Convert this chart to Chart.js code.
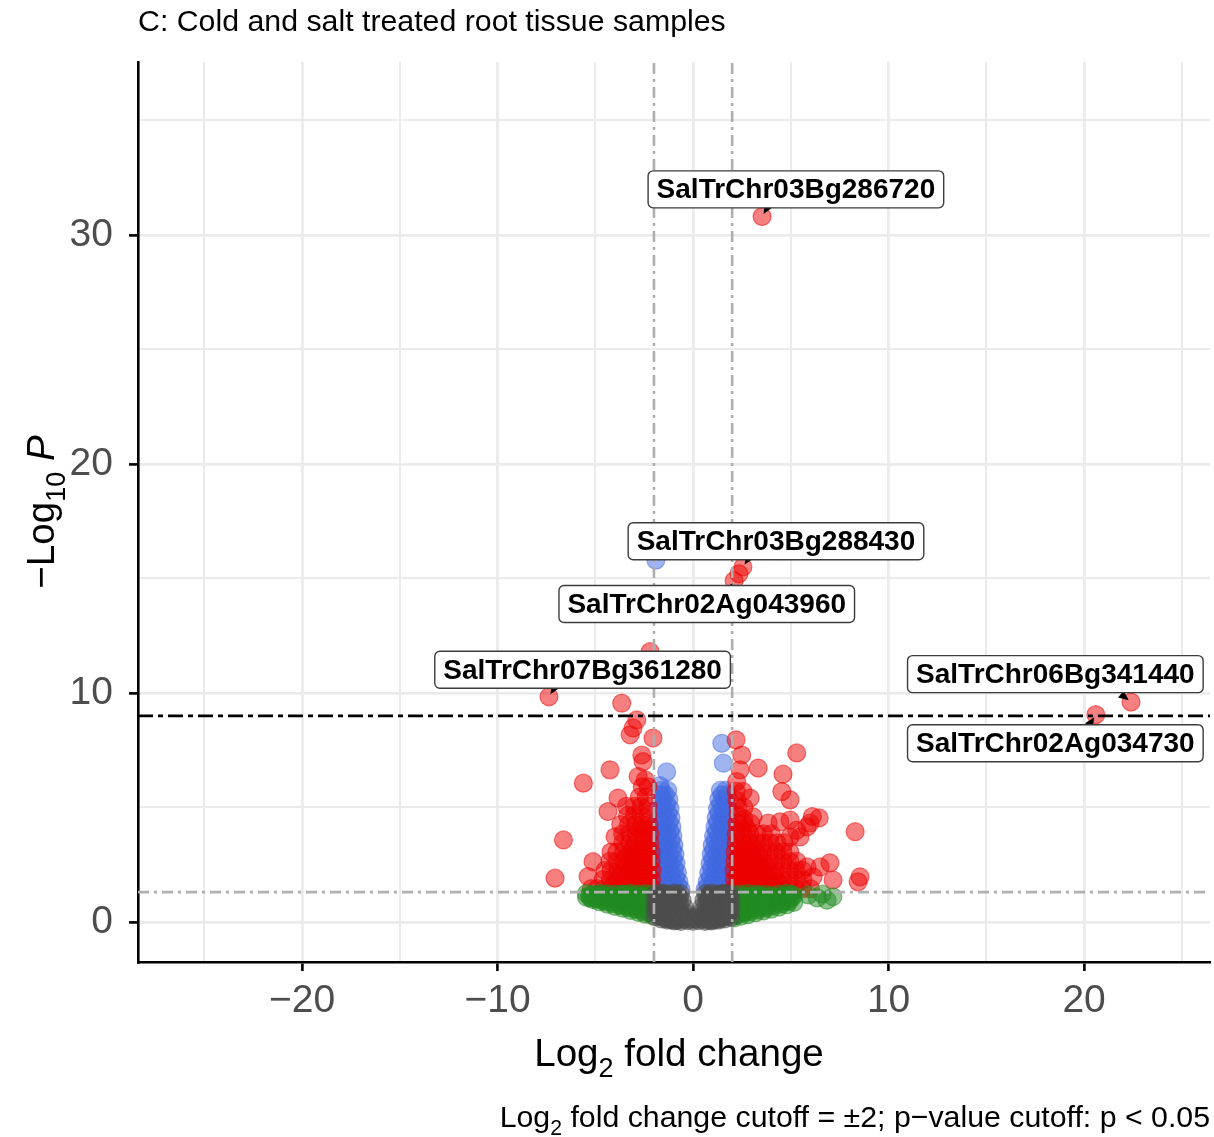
<!DOCTYPE html>
<html>
<head>
<meta charset="utf-8">
<script src="https://cdn.jsdelivr.net/npm/chart.js@4.4.1/dist/chart.umd.min.js"></script>
<style>
  html, body { margin: 0; padding: 0; background: #fff; }
  canvas { display: block; }
</style>
</head>
<body>
<canvas id="chart" width="1214" height="1137"></canvas>
<script>
// log2 fold change / -log10 p, one list per significance class
const nsGenes = [
  [-1.93, 0.22], [-1.93, 0.55], [-1.93, 0.9], [-1.92, 1.22],
  [-1.86, 0.4], [-1.86, 0.75], [-1.86, 1.1],
  [-1.78, 0.35], [-1.78, 0.7], [-1.78, 1.05],
  [-1.7, 0.25], [-1.7, 0.6], [-1.7, 0.95], [-1.7, 1.25],
  [-1.62, 0.13], [-1.62, 0.48], [-1.6, 0.85], [-1.62, 1.2],
  [-1.54, 0.2], [-1.54, 0.55], [-1.54, 0.9], [-1.54, 1.18],
  [-1.46, 0.28], [-1.46, 0.62], [-1.46, 0.98], [-1.46, 1.25],
  [-1.38, 0.15], [-1.38, 0.5], [-1.38, 0.85], [-1.38, 1.2],
  [-1.3, 0.08], [-1.3, 0.42], [-1.28, 0.78], [-1.3, 1.15],
  [-1.2, 0.12], [-1.2, 0.45], [-1.2, 0.8], [-1.2, 1.1],
  [-1.12, 0.22], [-1.12, 0.56], [-1.12, 0.9], [-1.12, 1.2],
  [-1.04, 0.1], [-1.04, 0.45], [-1.04, 0.8], [-1.04, 1.15],
  [-0.95, 0.04], [-0.95, 0.38], [-0.95, 0.72], [-0.93, 1.05], [-0.95, 1.26],
  [-0.88, 0.08], [-0.88, 0.42], [-0.88, 0.75], [-0.88, 1.08],
  [-0.8, 0.18], [-0.8, 0.52], [-0.8, 0.85], [-0.78, 1.15],
  [-0.7, 0.1], [-0.7, 0.42], [-0.68, 0.75], [-0.7, 1.05],
  [-0.62, 0.02], [-0.62, 0.3], [-0.64, 1.24], [-0.56, 0.95], [-0.46, 0.65], [-0.33, 0.36],
  [-0.48, 0.12], [-0.4, 0.22], [-0.28, 0.06], [-0.2, 0.22], [-0.12, 0.12],
  [0, 0.03],
  [0.12, 0.12], [0.2, 0.22], [0.28, 0.06], [0.4, 0.22], [0.48, 0.12],
  [0.33, 0.36], [0.46, 0.65], [0.56, 0.95], [0.64, 1.24], [0.62, 0.3], [0.62, 0.02],
  [0.7, 0.1], [0.7, 0.42], [0.68, 0.75], [0.7, 1.05],
  [0.8, 0.18], [0.8, 0.52], [0.8, 0.85], [0.78, 1.15],
  [0.88, 0.08], [0.88, 0.42], [0.88, 0.75], [0.88, 1.08],
  [0.95, 0.04], [0.95, 0.38], [0.95, 0.72], [0.93, 1.05], [0.95, 1.26],
  [1.04, 0.1], [1.04, 0.45], [1.04, 0.8], [1.04, 1.15],
  [1.12, 0.22], [1.12, 0.56], [1.12, 0.9], [1.12, 1.2],
  [1.2, 0.12], [1.2, 0.45], [1.2, 0.8], [1.2, 1.1],
  [1.3, 0.08], [1.3, 0.42], [1.28, 0.78], [1.3, 1.15],
  [1.38, 0.15], [1.38, 0.5], [1.38, 0.85], [1.38, 1.2],
  [1.46, 0.28], [1.46, 0.62], [1.46, 0.98], [1.46, 1.25],
  [1.54, 0.2], [1.54, 0.55], [1.54, 0.9], [1.54, 1.18],
  [1.62, 0.13], [1.62, 0.48], [1.6, 0.85], [1.62, 1.2],
  [1.7, 0.25], [1.7, 0.6], [1.7, 0.95], [1.7, 1.25],
  [1.78, 0.35], [1.78, 0.7], [1.78, 1.05],
  [1.86, 0.4], [1.86, 0.75], [1.86, 1.1],
  [1.93, 0.2], [1.93, 0.55], [1.93, 0.9], [1.92, 1.22],
];

const fcGenes = [
  [-2.1, 0.28], [-2.1, 0.6], [-2.1, 0.95], [-2.1, 1.22],
  [-2.2, 0.4], [-2.2, 0.75], [-2.2, 1.05],
  [-2.28, 0.45], [-2.28, 0.8], [-2.28, 1.1],
  [-2.45, 0.34], [-2.45, 0.65], [-2.45, 0.98], [-2.45, 1.24],
  [-2.55, 0.45], [-2.55, 0.75], [-2.55, 1.05],
  [-2.62, 0.55], [-2.62, 0.85], [-2.62, 1.12],
  [-2.8, 0.42], [-2.8, 0.72], [-2.8, 1.0], [-2.8, 1.22],
  [-2.9, 0.55], [-2.9, 0.85], [-2.9, 1.1],
  [-3.0, 0.6], [-3.0, 0.9], [-3.0, 1.15],
  [-3.2, 0.5], [-3.2, 0.8], [-3.2, 1.05], [-3.2, 1.25],
  [-3.3, 0.62], [-3.3, 0.92], [-3.3, 1.15],
  [-3.4, 0.7], [-3.4, 1.0], [-3.4, 1.2],
  [-3.6, 0.6], [-3.6, 0.9], [-3.6, 1.2],
  [-3.7, 0.72], [-3.7, 1.0], [-3.7, 1.22],
  [-3.8, 0.8], [-3.8, 1.08],
  [-4.0, 0.68], [-4.0, 0.95], [-4.0, 1.22],
  [-4.1, 0.8], [-4.1, 1.05],
  [-4.2, 0.88], [-4.2, 1.12],
  [-4.4, 0.78], [-4.4, 1.02], [-4.4, 1.24],
  [-4.5, 0.88], [-4.5, 1.12],
  [-4.6, 0.95], [-4.6, 1.18],
  [-4.8, 0.88], [-4.8, 1.1], [-4.8, 1.25],
  [-4.9, 0.98], [-4.9, 1.18],
  [-5.0, 1.05], [-5.15, 0.98], [-5.15, 1.2], [-5.25, 1.05], [-5.3, 1.15], [-5.45, 1.08], [-5.45, 1.24],
  [2.1, 0.18], [2.1, 0.5], [2.1, 0.85], [2.1, 1.2],
  [2.2, 0.3], [2.2, 0.65], [2.2, 1.0],
  [2.28, 0.35], [2.28, 0.7], [2.28, 1.05],
  [2.45, 0.25], [2.45, 0.55], [2.45, 0.9], [2.45, 1.22],
  [2.55, 0.38], [2.55, 0.7], [2.55, 1.02],
  [2.62, 0.45], [2.62, 0.78], [2.62, 1.1],
  [2.8, 0.32], [2.8, 0.62], [2.8, 0.95], [2.8, 1.24],
  [2.9, 0.45], [2.9, 0.78], [2.9, 1.08],
  [3.0, 0.55], [3.0, 0.85], [3.0, 1.12],
  [3.2, 0.4], [3.2, 0.7], [3.2, 1.0], [3.2, 1.22],
  [3.3, 0.52], [3.3, 0.82], [3.3, 1.12],
  [3.4, 0.62], [3.4, 0.92], [3.4, 1.18],
  [3.6, 0.48], [3.6, 0.8], [3.6, 1.1],
  [3.7, 0.6], [3.7, 0.92], [3.7, 1.2],
  [3.8, 0.7], [3.8, 1.0],
  [4.0, 0.56], [4.0, 0.85], [4.0, 1.15],
  [4.1, 0.7], [4.1, 1.0],
  [4.2, 0.8], [4.2, 1.08],
  [4.4, 0.65], [4.4, 0.95], [4.4, 1.22],
  [4.5, 0.78], [4.5, 1.08],
  [4.6, 0.88], [4.6, 1.15],
  [4.8, 0.75], [4.8, 1.05], [4.8, 1.25],
  [4.9, 0.9], [4.9, 1.15],
  [5.0, 1.0], [5.05, 1.2], [5.15, 0.85], [5.15, 1.15],
  [5.9, 1.18], [6.35, 1.05], [6.6, 1.22], [6.85, 0.95], [7.15, 1.1],
];

const pGenes = [
  [-0.62, 1.42], [-0.92, 1.42], [-1.25, 1.42], [-1.6, 1.42], [-1.9, 1.42],
  [-0.78, 1.6], [-1.1, 1.6], [-1.45, 1.6], [-1.8, 1.6],
  [-0.72, 1.75], [-1.02, 1.75], [-1.35, 1.75], [-1.68, 1.75], [-1.95, 1.75],
  [-0.88, 1.95], [-1.2, 1.95], [-1.52, 1.95], [-1.85, 1.95],
  [-0.8, 2.15], [-1.1, 2.15], [-1.42, 2.15], [-1.75, 2.15],
  [-0.95, 2.35], [-1.28, 2.35], [-1.6, 2.35], [-1.9, 2.35],
  [-0.87, 2.55], [-1.17, 2.55], [-1.48, 2.55], [-1.8, 2.55],
  [-1.0, 2.75], [-1.33, 2.75], [-1.65, 2.75],
  [-0.93, 2.95], [-1.22, 2.95], [-1.53, 2.95], [-1.85, 2.95],
  [-1.05, 3.15], [-1.38, 3.15], [-1.7, 3.15],
  [-0.98, 3.35], [-1.27, 3.35], [-1.58, 3.35], [-1.88, 3.35],
  [-1.12, 3.55], [-1.43, 3.55], [-1.75, 3.55],
  [-1.03, 3.75], [-1.32, 3.75], [-1.62, 3.75], [-1.92, 3.75],
  [-1.17, 3.95], [-1.5, 3.95], [-1.8, 3.95],
  [-1.08, 4.15], [-1.37, 4.15], [-1.67, 4.15],
  [-1.22, 4.35], [-1.55, 4.35], [-1.85, 4.35],
  [-1.13, 4.55], [-1.42, 4.55], [-1.72, 4.55],
  [-1.28, 4.75], [-1.6, 4.75],
  [-1.18, 4.95], [-1.47, 4.95], [-1.78, 4.95],
  [-1.35, 5.15], [-1.65, 5.15],
  [-1.24, 5.35], [-1.55, 5.35], [-1.42, 5.55], [-1.7, 5.55],
  [-1.3, 5.75], [-1.62, 5.75],
  [-1.69, 5.95], [-1.35, 6.55], [-1.9, 15.8],
  [0.62, 1.42], [0.92, 1.42], [1.25, 1.42], [1.6, 1.42], [1.9, 1.42],
  [0.78, 1.6], [1.1, 1.6], [1.45, 1.6], [1.8, 1.6],
  [0.72, 1.75], [1.02, 1.75], [1.35, 1.75], [1.68, 1.75], [1.95, 1.75],
  [0.88, 1.95], [1.2, 1.95], [1.52, 1.95], [1.85, 1.95],
  [0.8, 2.15], [1.1, 2.15], [1.42, 2.15], [1.75, 2.15],
  [0.95, 2.35], [1.28, 2.35], [1.6, 2.35], [1.9, 2.35],
  [0.87, 2.55], [1.17, 2.55], [1.48, 2.55], [1.8, 2.55],
  [1.0, 2.75], [1.33, 2.75], [1.65, 2.75],
  [0.93, 2.95], [1.22, 2.95], [1.53, 2.95], [1.85, 2.95],
  [1.05, 3.15], [1.38, 3.15], [1.7, 3.15],
  [0.98, 3.35], [1.27, 3.35], [1.58, 3.35], [1.88, 3.35],
  [1.12, 3.55], [1.43, 3.55], [1.75, 3.55],
  [1.05, 3.75], [1.34, 3.75], [1.64, 3.75], [1.92, 3.75],
  [1.2, 3.95], [1.5, 3.95], [1.8, 3.95],
  [1.12, 4.15], [1.4, 4.15], [1.7, 4.15],
  [1.25, 4.35], [1.55, 4.35], [1.85, 4.35],
  [1.18, 4.55], [1.46, 4.55], [1.75, 4.55],
  [1.32, 4.75], [1.62, 4.75],
  [1.25, 4.95], [1.52, 4.95], [1.8, 4.95],
  [1.4, 5.15], [1.7, 5.15],
  [1.32, 5.35], [1.6, 5.35], [1.48, 5.55], [1.75, 5.55],
  [1.4, 5.75], [1.68, 5.75],
  [1.55, 6.93], [1.47, 7.8],
];

const fcPGenes = [
  [-2.1, 1.45], [-2.45, 1.45], [-2.8, 1.45], [-3.15, 1.45], [-3.5, 1.45], [-3.85, 1.45], [-4.2, 1.45], [-4.55, 1.45], [-4.9, 1.45], [-5.2, 1.45],
  [-2.28, 1.65], [-2.63, 1.65], [-2.98, 1.65], [-3.33, 1.65], [-3.68, 1.65], [-4.05, 1.65],
  [-2.12, 1.85], [-2.47, 1.85], [-2.82, 1.85], [-3.17, 1.85], [-3.52, 1.85], [-3.87, 1.85], [-4.22, 1.85], [-4.6, 1.85], [-5.37, 1.98],
  [-2.28, 2.05], [-2.63, 2.05], [-2.98, 2.05], [-3.33, 2.05], [-3.68, 2.05],
  [-2.1, 2.25], [-2.45, 2.25], [-2.8, 2.25], [-3.15, 2.25], [-3.5, 2.25], [-3.85, 2.25], [-4.2, 2.25], [-4.5, 2.25],
  [-2.3, 2.45], [-2.65, 2.45], [-3.0, 2.45], [-3.35, 2.45],
  [-2.15, 2.65], [-2.5, 2.65], [-2.85, 2.65], [-3.2, 2.65], [-3.55, 2.65], [-3.9, 2.65], [-4.25, 2.65], [-5.12, 2.63],
  [-2.32, 2.85], [-2.67, 2.85], [-3.02, 2.85], [-3.37, 2.85],
  [-2.15, 3.05], [-2.5, 3.05], [-2.85, 3.05], [-3.2, 3.05], [-3.55, 3.05], [-3.9, 3.05], [-4.2, 3.05],
  [-2.35, 3.25], [-2.7, 3.25], [-3.05, 3.25],
  [-2.2, 3.45], [-2.55, 3.45], [-2.9, 3.45], [-3.25, 3.45], [-3.6, 3.45], [-3.99, 3.72],
  [-2.2, 3.85], [-2.55, 3.85], [-2.9, 3.85], [-3.25, 3.85], [-3.6, 3.85],
  [-2.4, 4.05], [-2.75, 4.05],
  [-2.25, 4.25], [-2.6, 4.25], [-2.95, 4.25], [-3.3, 4.25], [-3.7, 4.25],
  [-2.3, 4.65], [-2.65, 4.65], [-3.0, 4.65], [-3.35, 4.65], [-4.35, 4.82],
  [-2.3, 5.05], [-2.65, 5.05], [-3.0, 5.05], [-3.4, 5.05],
  [-2.4, 5.45], [-2.75, 5.45], [-3.84, 5.41],
  [-2.3, 5.9], [-2.6, 5.9], [-2.45, 6.2],
  [-7.06, 1.91], [-6.63, 3.58], [-5.61, 6.06], [-4.25, 6.64], [-2.81, 6.35], [-2.56, 7.0],
  [-2.62, 7.29], [-2.05, 8.03], [-3.22, 8.17], [-3.07, 8.47], [-2.88, 8.82], [-3.65, 9.55], [-2.2, 11.8],
  [2.1, 1.45], [2.45, 1.45], [2.8, 1.45], [3.15, 1.45], [3.5, 1.45], [3.85, 1.45], [4.2, 1.45], [4.55, 1.45], [4.9, 1.45], [5.25, 1.45], [5.6, 1.45], [6.0, 1.45],
  [2.28, 1.65], [2.63, 1.65], [2.98, 1.65], [3.33, 1.65], [3.68, 1.65], [4.05, 1.65], [4.4, 1.65],
  [2.12, 1.85], [2.47, 1.85], [2.82, 1.85], [3.17, 1.85], [3.52, 1.85], [3.87, 1.85], [4.22, 1.85], [4.57, 1.85], [4.92, 1.85], [5.27, 1.85], [5.62, 1.85], [6.14, 1.97],
  [2.28, 2.05], [2.63, 2.05], [2.98, 2.05], [3.33, 2.05], [3.68, 2.05], [4.05, 2.05],
  [2.1, 2.25], [2.45, 2.25], [2.8, 2.25], [3.15, 2.25], [3.5, 2.25], [3.85, 2.25], [4.2, 2.25], [4.55, 2.25], [4.9, 2.25], [5.25, 2.25], [5.6, 2.25],
  [2.3, 2.45], [2.65, 2.45], [3.0, 2.45], [3.35, 2.45], [3.7, 2.45],
  [2.15, 2.65], [2.5, 2.65], [2.85, 2.65], [3.2, 2.65], [3.55, 2.65], [3.9, 2.65], [4.25, 2.65], [4.6, 2.65], [4.95, 2.65], [5.3, 2.65], [5.83, 2.4], [6.5, 2.4],
  [2.32, 2.85], [2.67, 2.85], [3.02, 2.85], [3.37, 2.85],
  [2.15, 3.05], [2.5, 3.05], [2.85, 3.05], [3.2, 3.05], [3.55, 3.05], [3.9, 3.05], [4.25, 3.05], [4.6, 3.05], [4.95, 3.05],
  [2.35, 3.25], [2.7, 3.25], [3.05, 3.25],
  [2.2, 3.45], [2.55, 3.45], [2.9, 3.45], [3.25, 3.45], [3.6, 3.45], [3.95, 3.45], [4.3, 3.45], [4.65, 3.45], [5.47, 3.71],
  [2.2, 3.85], [2.55, 3.85], [2.9, 3.85], [3.27, 3.85], [3.6, 3.85], [4.0, 3.85], [4.96, 3.71], [5.3, 4.0], [5.83, 4.15],
  [2.4, 4.05], [2.75, 4.05],
  [2.25, 4.3], [2.6, 4.3], [2.95, 4.3], [3.84, 4.32], [4.45, 4.37], [4.96, 4.45], [5.98, 4.32],
  [2.3, 4.65], [2.6, 4.5], [3.07, 4.59], [6.1, 4.6], [6.45, 4.54],
  [2.3, 5.0], [2.6, 5.0], [2.25, 5.3], [2.92, 5.41], [4.96, 5.33],
  [2.2, 5.7], [2.55, 5.7], [2.23, 6.13], [2.4, 6.64], [3.33, 6.72],
  [4.54, 5.69], [4.6, 6.45], [5.3, 7.38], [2.49, 7.29], [2.2, 7.95],
  [8.29, 3.94], [7.0, 2.58], [8.54, 1.97], [8.44, 1.75], [7.16, 1.83],
  [2.35, 15.2],
];

// genes with a repelled label: name, point, label centre
const labelGenes = [
  "SalTrChr03Bg286720", "SalTrChr03Bg288430", "SalTrChr02Ag043960",
  "SalTrChr07Bg361280", "SalTrChr06Bg341440", "SalTrChr02Ag034730",
];
const labelPoints = [[3.53, 30.8], [2.55, 15.5], [2.1, 14.9], [-7.37, 9.83], [22.4, 9.6], [20.6, 9.05]];
const labelAt = [[5.26, 31.99], [4.24, 16.62], [0.7, 13.88], [-5.65, 11.01], [18.53, 10.82], [18.53, 7.8]];

const fcCutoff = 2;
const pCutoff = 0.05;
const hlineP = 1e-9;

const xLimits = [-28.39, 26.44];
const yLimits = [-1.75, 37.55];
const xTicks = [-25, -20, -15, -10, -5, 0, 5, 10, 15, 20, 25];
const yTicks = [0, 5, 10, 15, 20, 25, 30, 35];

const FONT = "'Liberation Sans', Arial, Helvetica, sans-serif";
const fmtTick = (v) => (v < 0 ? "\u2212" + Math.abs(v) : String(v));
const isMajor = (c) => c.tick && c.tick.value % 10 === 0;

const pointSet = (label, pts, rgb) => ({
    label: label,
    data: pts.map(([x, y]) => ({ x, y })),
    pointRadius: 9,
    pointHoverRadius: 9,
    backgroundColor: `rgba(${rgb},0.5)`,
    borderColor: `rgba(${rgb},0.5)`,
    borderWidth: 1.2,
});

// draws text runs with subscripts, e.g. Log[2]
function richText(ctx, runs, x, y, size, align) {
    const fontOf = (r) => `${r.italic ? "italic " : ""}${r.sub ? size * 0.7 : size}px ${FONT}`;
    let total = 0;
    runs.forEach((r) => {
        ctx.font = fontOf(r);
        r.w = ctx.measureText(r.t).width;
        total += r.w;
    });
    let cx = align === "center" ? x - total / 2 : align === "right" ? x - total : x;
    ctx.textAlign = "left";
    ctx.textBaseline = "alphabetic";
    runs.forEach((r) => {
        ctx.font = fontOf(r);
        ctx.fillText(r.t, cx, r.sub ? y + size * 0.28 : y);
        cx += r.w;
    });
}

const volcanoDecor = {
    id: "volcanoDecor",
    beforeDraw(chart) {
        const ctx = chart.ctx;
        ctx.save();
        ctx.fillStyle = "#fff";
        ctx.fillRect(0, 0, chart.width, chart.height);
        ctx.restore();
    },
    afterDatasetsDraw(chart) {
        const { ctx, chartArea: a, scales: { x, y } } = chart;
        const line = (x1, y1, x2, y2) => {
            ctx.beginPath();
            ctx.moveTo(x1, y1);
            ctx.lineTo(x2, y2);
            ctx.stroke();
        };
        ctx.save();
        ctx.beginPath();
        ctx.rect(a.left, a.top, a.width, a.height);
        ctx.clip();

        // cutoff lines
        ctx.strokeStyle = "#afafaf";
        ctx.lineWidth = 2.6;
        ctx.setLineDash([11, 5, 3, 5]);
        [-fcCutoff, fcCutoff].forEach((v) => {
            const px = x.getPixelForValue(v);
            line(px, a.bottom, px, a.top);
        });
        const py = y.getPixelForValue(-Math.log10(pCutoff));
        line(a.left, py, a.right, py);

        ctx.strokeStyle = "#000";
        ctx.lineWidth = 2.8;
        ctx.setLineDash([15, 5, 5, 5]);
        const hy = y.getPixelForValue(-Math.log10(hlineP));
        line(a.left, hy, a.right, hy);
        ctx.setLineDash([]);

        // gene labels with connector arrowheads
        ctx.font = `bold 28px ${FONT}`;
        labelGenes.forEach((name, i) => {
            const px = x.getPixelForValue(labelPoints[i][0]);
            const ppy = y.getPixelForValue(labelPoints[i][1]);
            const cx = x.getPixelForValue(labelAt[i][0]);
            const cy = y.getPixelForValue(labelAt[i][1]);
            const w = ctx.measureText(name).width + 17;
            const h = 37;
            const left = cx - w / 2;
            const top = cy - h / 2;

            // aim at the nearest box edge, pulled a little toward the centre
            const nx = Math.min(Math.max(px, left), left + w);
            const ny = Math.min(Math.max(ppy, top), top + h);
            const gx = nx + (cx - nx) * 0.22;
            const gy = ny + (cy - ny) * 0.22;
            let dx = gx - px;
            let dy = gy - ppy;
            const d = Math.hypot(dx, dy) || 1;
            dx /= d;
            dy /= d;
            const tipX = px + dx * 3;
            const tipY = ppy + dy * 3;
            const bx = tipX + dx * 10;
            const by = tipY + dy * 10;
            ctx.fillStyle = "#000";
            ctx.beginPath();
            ctx.moveTo(tipX, tipY);
            ctx.lineTo(bx - dy * 4.5, by + dx * 4.5);
            ctx.lineTo(bx + dy * 4.5, by - dx * 4.5);
            ctx.closePath();
            ctx.fill();

            ctx.beginPath();
            ctx.roundRect(left, top, w, h, 5);
            ctx.fillStyle = "#fff";
            ctx.fill();
            ctx.strokeStyle = "#3c3c3c";
            ctx.lineWidth = 1.4;
            ctx.stroke();
            ctx.fillStyle = "#000";
            ctx.textAlign = "center";
            ctx.textBaseline = "middle";
            ctx.fillText(name, cx, cy + 1);
        });
        ctx.restore();
    },
    afterDraw(chart) {
        const { ctx, chartArea: a } = chart;
        ctx.save();
        ctx.fillStyle = "#000";
        richText(ctx, [{ t: "C: Cold and salt treated root tissue samples" }], a.left, 31, 30.3, "left");
        richText(ctx, [{ t: "Log" }, { t: "2", sub: true }, { t: " fold change" }], (a.left + a.right) / 2 + 5, 1066, 38.6, "center");
        richText(
            ctx,
            [{ t: "Log" }, { t: "2", sub: true }, { t: " fold change cutoff = \u00b12; p\u2212value cutoff: p < 0.05" }],
            a.right, 1127, 30.3, "right"
        );
        ctx.translate(54, (a.top + a.bottom) / 2);
        ctx.rotate(-Math.PI / 2);
        richText(ctx, [{ t: "\u2212Log" }, { t: "10", sub: true }, { t: " " }, { t: "P", italic: true }], 0, 0, 38.6, "center");
        ctx.restore();
    },
};

const axisStyle = (ticks, limits) => ({
    type: "linear",
    min: limits[0],
    max: limits[1],
    afterBuildTicks: (axis) => {
        axis.ticks = ticks.map((v) => ({ value: v }));
    },
    ticks: {
        callback: (v) => (v % 10 === 0 ? fmtTick(v) : ""),
        color: "#4d4d4d",
        font: { family: FONT, size: 39 },
        maxRotation: 0,
        autoSkip: false,
    },
    grid: {
        color: "#ebebeb",
        lineWidth: (c) => (isMajor(c) ? 2.8 : 2),
        tickLength: 9,
        tickWidth: 2.6,
        tickColor: (c) => (isMajor(c) ? "#000" : "rgba(0,0,0,0)"),
    },
    border: { color: "#000", width: 2.6 },
});

const xAxis = axisStyle(xTicks, xLimits);
xAxis.ticks.padding = 7;
xAxis.afterFit = (axis) => {
    axis.height = 175;
    axis.paddingLeft = 0;
    axis.paddingRight = 0;
};
const yAxis = axisStyle(yTicks, yLimits);
yAxis.ticks.padding = 16;
yAxis.afterFit = (axis) => {
    axis.width = 138;
    axis.paddingTop = 0;
    axis.paddingBottom = 0;
};

// first dataset is painted last, so grey and green sit over the coloured wings
new Chart(document.getElementById("chart").getContext("2d"), {
    type: "scatter",
    data: {
        datasets: [
            pointSet("NS", nsGenes, "77,77,77"),
            pointSet("FC", fcGenes, "34,139,34"),
            pointSet("FC and P", fcPGenes.concat(labelPoints), "238,0,0"),
            pointSet("P", pGenes, "65,105,225"),
        ],
    },
    options: {
        responsive: false,
        animation: false,
        layout: { autoPadding: false, padding: { top: 62, right: 4, left: 0, bottom: 0 } },
        plugins: {
            legend: { display: false },
            tooltip: { enabled: false },
        },
        events: [],
        scales: { x: xAxis, y: yAxis },
    },
    plugins: [volcanoDecor],
});
</script>
</body>
</html>
